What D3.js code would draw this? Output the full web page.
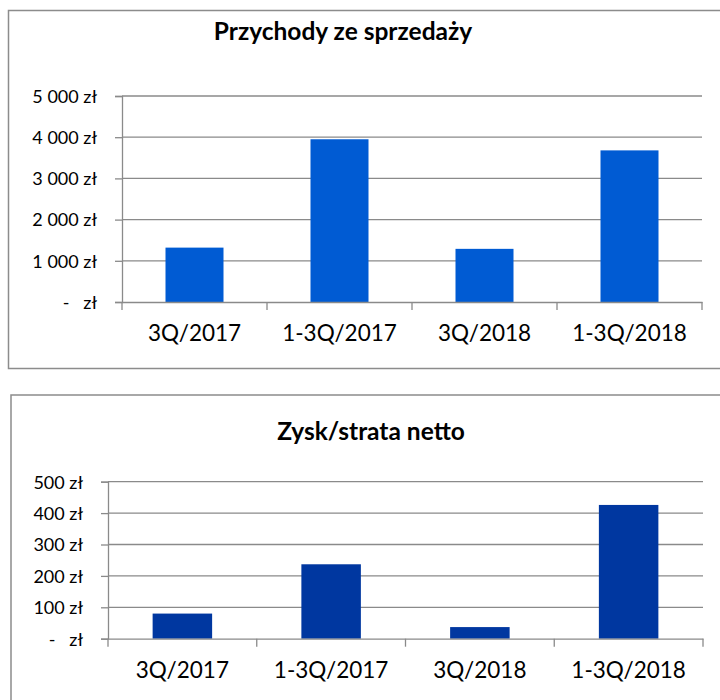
<!DOCTYPE html>
<html>
<head>
<meta charset="utf-8">
<title>Przychody i zysk</title>
<style>
    body { margin: 0; background: #fff; }
    svg text { font-family: Lato, "Open Sans", sans-serif; fill: #000; white-space: pre; }
    .box { fill: none; stroke: #8c8c8c; stroke-width: 1.5px; }
    .grid line { stroke: #8a8a8a; stroke-width: 1.3px; }
</style>
</head>
<body>
<svg width="720" height="700"></svg>
<script src="https://d3js.org/d3.v7.min.js"></script>
<script>
const periods = ["3Q/2017", "1-3Q/2017", "3Q/2018", "1-3Q/2018"];
const revenue = [1320, 3950, 1290, 3680];
const netProfit = [80, 237, 37, 426];
const revenueTicks = [0, 1000, 2000, 3000, 4000, 5000];
const profitTicks = [0, 100, 200, 300, 400, 500];

const pl = d3.formatLocale({ decimal: ",", thousands: " ", grouping: [3], currency: ["", " zł"] });
const num = pl.format(",.0f");
const money = v => v === 0 ? "-   zł" : num(v) + " zł";

const svg = d3.select("svg");

function drawChart(opt) {
    const g = svg.append("g");

    g.append("rect").attr("class", "box")
        .attr("x", opt.box[0]).attr("y", opt.box[1])
        .attr("width", opt.box[2]).attr("height", opt.box[3]);

    g.append("text")
        .attr("x", opt.titleX).attr("y", opt.titleY)
        .attr("text-anchor", "middle")
        .attr("font-size", "24.5px").attr("font-weight", "bold")
        .text(opt.title);

    const x = d3.scaleBand().domain(periods).range([opt.left, opt.right]);
    const y = d3.scaleLinear().domain([0, d3.max(opt.ticks)]).range([opt.bottom, opt.top]);

    // gridlines
    g.append("g").attr("class", "grid")
        .selectAll("line").data(opt.ticks.slice(1)).join("line")
        .attr("x1", opt.left).attr("x2", opt.right)
        .attr("y1", d => y(d)).attr("y2", d => y(d));

    // bars (gap width 150%)
    g.append("g").selectAll("rect").data(opt.values).join("rect")
        .attr("x", (d, i) => x(periods[i]) + x.bandwidth() * 0.3)
        .attr("width", x.bandwidth() * 0.4)
        .attr("y", d => y(d))
        .attr("height", d => y(0) - y(d))
        .attr("fill", opt.color);

    // y axis
    const ya = g.append("g").attr("transform", `translate(${opt.left},0)`)
        .call(d3.axisLeft(y).tickValues(opt.ticks).tickFormat(money).tickSize(7).tickPadding(18));
    ya.select(".domain").attr("stroke", "#8a8a8a").attr("stroke-width", 1.3);
    ya.selectAll(".tick line").attr("stroke", "#8a8a8a").attr("stroke-width", 1.3);
    ya.selectAll(".tick text").attr("font-size", "18px").attr("font-family", null).attr("dy", "0.35em");

    // x axis
    const xa = g.append("g").attr("transform", `translate(0,${opt.bottom})`)
        .call(d3.axisBottom(x).tickSize(0).tickPadding(opt.xPad));
    xa.select(".domain").attr("stroke", "#8a8a8a").attr("stroke-width", 1.3);
    xa.selectAll(".tick text").attr("font-size", "22.5px").attr("font-family", null);
    // tick marks between categories
    xa.selectAll(".sep").data(d3.range(periods.length + 1)).join("line")
        .attr("x1", i => opt.left + i * x.step())
        .attr("x2", i => opt.left + i * x.step())
        .attr("y1", 0).attr("y2", 8)
        .attr("stroke", "#8a8a8a").attr("stroke-width", 1.3);
}

drawChart({
    title: "Przychody ze sprzedaży",
    titleX: 343, titleY: 40,
    box: [8.5, 10.5, 730, 358],
    left: 122, right: 702, top: 96, bottom: 302,
    values: revenue, ticks: revenueTicks,
    color: "#005bd3", xPad: 23
});

drawChart({
    title: "Zysk/strata netto",
    titleX: 371, titleY: 440,
    box: [11, 395, 730, 330],
    left: 108, right: 703, top: 481.7, bottom: 638.7,
    values: netProfit, ticks: profitTicks,
    color: "#0037a0", xPad: 23
});
</script>
</body>
</html>
